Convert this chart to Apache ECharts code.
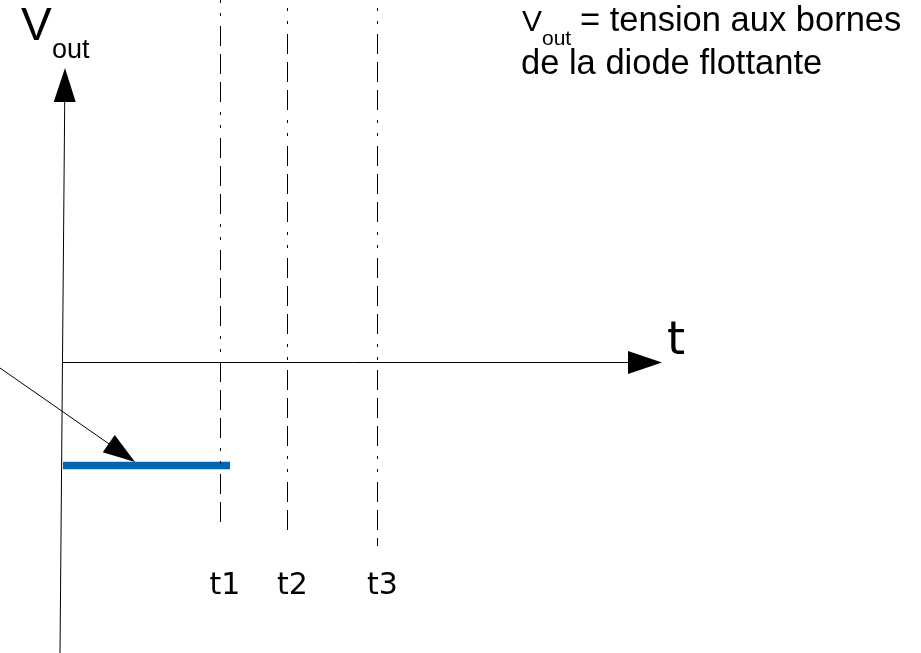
<!DOCTYPE html>
<html>
<head>
<meta charset="utf-8">
<style>
  html, body { margin: 0; padding: 0; background: #fff; }
  #chart { width: 921px; height: 653px; }
</style>
<script src="https://cdn.jsdelivr.net/npm/echarts@6/dist/echarts.min.js"></script>
</head>
<body>
<div id="chart"></div>
<script>
// diagram units, origin = where the two axes cross
const tNames = ['t1', 't2', 't3']
const tValues = [156, 223.5, 313.5]
const dashTops = [362, 354, 354]
const dashBottoms = [-166, -174, -184]
const tLabelLevel = -224

// V_out stays at a negative level until t1
const voutLevel = -103.5
const voutStart = -1
const voutEnd = 166

// hand drawn axes: [start, arrow tip]
const yAxisLine = [[-4, -291], [1, 294]]
const xAxisLine = [[-2, -0.5], [598, -0.5]]
const pointerLine = [[-64, -6], [71, -100]]

const dashPattern = [3, 10, 3, 10, 20, 8, 20, 8, 20, 10]

// the triangle is centered on the end point, so stop the line half a head before the tip
function toHead(line, len) {
  const a = line[0]
  const b = line[1]
  const dx = b[0] - a[0]
  const dy = b[1] - a[1]
  const d = Math.sqrt(dx * dx + dy * dy)
  return [a, [b[0] - dx / d * len / 2, b[1] - dy / d * len / 2]]
}

const chart = echarts.init(document.getElementById('chart'))

const option = {
  animation: false,
  backgroundColor: '#fff',
  grid: { left: 0, right: 0, top: 0, bottom: 0 },
  xAxis: { type: 'value', min: -64, max: 857, show: false },
  yAxis: { type: 'value', min: -291, max: 362, show: false },
  graphic: [
    {
      type: 'text', x: 21, y: 27,
      style: { text: 'V', font: '46px "Liberation Sans"', fill: '#000', verticalAlign: 'middle' }
    },
    {
      type: 'text', x: 52, y: 51,
      style: { text: 'out', font: '27px "Liberation Sans"', fill: '#000', verticalAlign: 'middle' }
    },
    {
      type: 'text', x: 667, y: 342,
      style: { text: 't', font: '46px "DejaVu Sans"', fill: '#000', verticalAlign: 'middle' }
    },
    {
      type: 'text', x: 522, y: 23,
      style: { text: 'V', font: '30px "Liberation Sans"', fill: '#000', verticalAlign: 'middle' }
    },
    {
      type: 'text', x: 542, y: 39,
      style: { text: 'out', font: '21px "Liberation Sans"', fill: '#000', verticalAlign: 'middle' }
    },
    {
      type: 'text', x: 580, y: 21.5,
      style: { text: '= tension aux bornes', font: '34.5px "Liberation Sans"', fill: '#000', verticalAlign: 'middle' }
    },
    {
      type: 'text', x: 521, y: 64.5,
      style: { text: 'de la diode flottante', font: '34.5px "Liberation Sans"', fill: '#000', verticalAlign: 'middle' }
    }
  ],
  series: [
    {
      name: 'vout',
      type: 'line',
      symbol: 'none',
      data: [[voutStart, voutLevel], [voutEnd, voutLevel]],
      lineStyle: { color: '#0066b3', width: 7.5 },
      z: 1
    },
    {
      name: 'instants',
      type: 'lines',
      coordinateSystem: 'cartesian2d',
      data: tValues.map((t, i) => ({ coords: [[t, dashTops[i]], [t, dashBottoms[i]]] })),
      lineStyle: { color: '#000', width: 1, type: dashPattern, opacity: 1 },
      z: 2
    },
    {
      name: 'yAxisArrow',
      type: 'lines',
      coordinateSystem: 'cartesian2d',
      symbol: ['none', 'triangle'],
      symbolSize: [0, [22, 34]],
      data: [{ coords: toHead(yAxisLine, 34) }],
      lineStyle: { color: '#000', width: 1, opacity: 1 },
      z: 3
    },
    {
      name: 'xAxisArrow',
      type: 'lines',
      coordinateSystem: 'cartesian2d',
      symbol: ['none', 'triangle'],
      symbolSize: [0, [23, 34]],
      data: [{ coords: toHead(xAxisLine, 34) }],
      lineStyle: { color: '#000', width: 1, opacity: 1 },
      z: 3
    },
    {
      name: 'pointer',
      type: 'lines',
      coordinateSystem: 'cartesian2d',
      symbol: ['none', 'triangle'],
      symbolSize: [0, [21, 32]],
      data: [{ coords: toHead(pointerLine, 32) }],
      lineStyle: { color: '#000', width: 1, opacity: 1 },
      z: 3
    },
    {
      name: 'tLabels',
      type: 'scatter',
      symbolSize: 0,
      data: tValues.map(t => [t, tLabelLevel]),
      label: {
        show: true,
        position: 'inside',
        offset: [5, 0],
        formatter: (p) => tNames[p.dataIndex],
        fontFamily: 'DejaVu Sans',
        fontSize: 30,
        color: '#000',
        textBorderWidth: 0,
        opacity: 1
      },
      z: 4
    }
  ]
}

chart.setOption(option)
window.addEventListener('resize', () => {
  chart.resize()
})
</script>
</body>
</html>
